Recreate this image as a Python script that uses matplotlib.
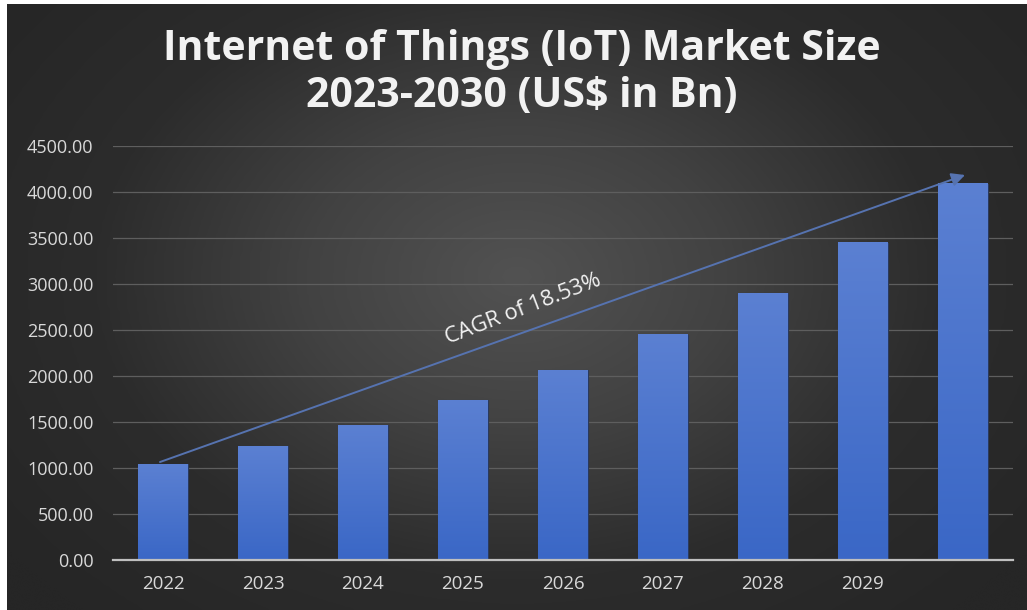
import numpy as np
import matplotlib
matplotlib.use("Agg")
import matplotlib.pyplot as plt
from matplotlib.colors import LinearSegmentedColormap

# Market size by year (US$ Bn)
years = ["2022", "2023", "2024", "2025", "2026", "2027", "2028", "2029", "2030"]
tick_labels = ["2022", "2023", "2024", "2025", "2026", "2027", "2028", "2029", ""]
market_size = [1043, 1239, 1467, 1739, 2065, 2446, 2902, 3446, 4087]
y_ticks = [0, 500, 1000, 1500, 2000, 2500, 3000, 3500, 4000, 4500]
title = "Internet of Things (IoT) Market Size\n2023-2030 (US$ in Bn)"
cagr_label = "CAGR of 18.53%"

plt.rcParams["font.family"] = ["Open Sans", "DejaVu Sans"]

W, H, DPI = 1027, 610, 100
fig = plt.figure(figsize=(W / DPI, H / DPI), dpi=DPI, facecolor="white")

# Dark radial-gradient panel behind the chart
bg = fig.add_axes([7 / W, 0, 1 - 7 / W, 1 - 4 / H])
bg.set_axis_off()
gx, gy = np.meshgrid(np.linspace(0, 1, 400), np.linspace(0, 1, 240))
r = np.sqrt(((gx - 0.5) / 0.62) ** 2 + ((gy - 0.45) / 0.75) ** 2)
r = np.clip(r, 0, 1)
bg_cmap = LinearSegmentedColormap.from_list("bg", ["#525252", "#424242", "#2c2c2c", "#262626"])
bg.imshow(r, cmap=bg_cmap, aspect="auto", extent=[0, 1, 0, 1], origin="upper",
          vmin=0, vmax=1, interpolation="bicubic")
bg.set_xlim(0, 1)
bg.set_ylim(0, 1)

fig.text(0.508, 1 - 73 / H, title, ha="center", va="center", color="#f2f2f2",
         fontsize=29.5, fontweight="bold", linespacing=1.2)

ax = fig.add_axes([113 / W, 1 - 560 / H, 900 / W, (560 - 146) / H])
ax.patch.set_alpha(0)
x = np.arange(len(years))

bars = ax.bar(x, market_size, width=0.5, color="#4472c4", edgecolor="#2a3a5e",
              linewidth=0.8, zorder=2)

# Vertical blue gradient inside each bar
bar_cmap = LinearSegmentedColormap.from_list("bar", ["#3a67c6", "#5b80d2"])
grad = np.linspace(0, 1, 256).reshape(-1, 1)
for b in bars:
    ax.imshow(grad, cmap=bar_cmap, aspect="auto", origin="lower", zorder=3,
              extent=[b.get_x(), b.get_x() + b.get_width(), 0, b.get_height()])
ax.set_xlim(-0.5, len(years) - 0.5)
ax.set_ylim(0, 4500)

ax.set_yticks(y_ticks)
ax.set_yticklabels([f"{v:.2f}" for v in y_ticks])
ax.set_xticks(x)
ax.set_xticklabels(tick_labels)
ax.tick_params(axis="both", length=0, colors="#d9d9d9", labelsize=13)
ax.tick_params(axis="y", pad=14)
ax.tick_params(axis="x", pad=11, labelsize=13.5)

ax.grid(axis="y", color="#5e5e5e", linewidth=0.9, zorder=0)
ax.set_axisbelow(True)
for side in ["top", "right", "left"]:
    ax.spines[side].set_visible(False)
ax.spines["bottom"].set_color("#bfbfbf")
ax.spines["bottom"].set_linewidth(1.6)
ax.spines["bottom"].set_zorder(4)

# Growth arrow with CAGR annotation
ax.annotate("", xy=(8.02, 4185), xytext=(-0.03, 1065),
            arrowprops=dict(arrowstyle="-|>,head_length=0.8,head_width=0.4",
                            color="#5673b0", lw=1.4, shrinkA=0, shrinkB=0),
            zorder=5)
ax.text(3.6, 2730, cagr_label, rotation=21, ha="center", va="center",
        color="#f2f2f2", fontsize=16, zorder=6, rotation_mode="anchor")

fig.savefig("out.png", dpi=DPI, facecolor="white")
